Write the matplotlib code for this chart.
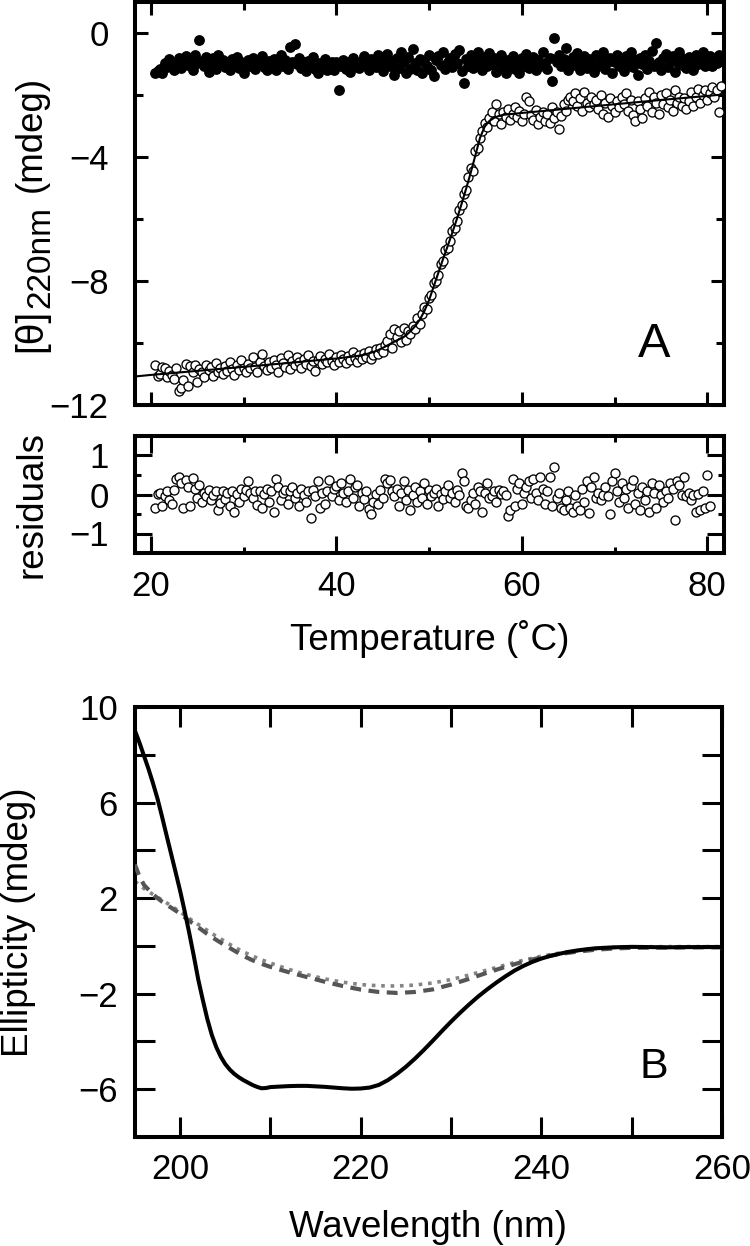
import numpy as np
import matplotlib
matplotlib.use('Agg')
import matplotlib.pyplot as plt
from matplotlib.ticker import MultipleLocator, FixedLocator

plt.rcParams['font.family'] = ['Liberation Sans', 'DejaVu Sans']
plt.rcParams['mathtext.default'] = 'regular'

# ---------------- data: panel A (thermal melt) ----------------
temperature = [
    20.5, 20.75, 21.0, 21.25, 21.5, 21.75, 22.0, 22.25, 22.5, 22.75,
    23.0, 23.25, 23.5, 23.75, 24.0, 24.25, 24.5, 24.75, 25.0, 25.25,
    25.5, 25.75, 26.0, 26.25, 26.5, 26.75, 27.0, 27.25, 27.5, 27.75,
    28.0, 28.25, 28.5, 28.75, 29.0, 29.25, 29.5, 29.75, 30.0, 30.25,
    30.5, 30.75, 31.0, 31.25, 31.5, 31.75, 32.0, 32.25, 32.5, 32.75,
    33.0, 33.25, 33.5, 33.75, 34.0, 34.25, 34.5, 34.75, 35.0, 35.25,
    35.5, 35.75, 36.0, 36.25, 36.5, 36.75, 37.0, 37.25, 37.5, 37.75,
    38.0, 38.25, 38.5, 38.75, 39.0, 39.25, 39.5, 39.75, 40.0, 40.25,
    40.5, 40.75, 41.0, 41.25, 41.5, 41.75, 42.0, 42.25, 42.5, 42.75,
    43.0, 43.25, 43.5, 43.75, 44.0, 44.25, 44.5, 44.75, 45.0, 45.25,
    45.5, 45.75, 46.0, 46.25, 46.5, 46.75, 47.0, 47.25, 47.5, 47.75,
    48.0, 48.25, 48.5, 48.75, 49.0, 49.25, 49.5, 49.75, 50.0, 50.25,
    50.5, 50.75, 51.0, 51.25, 51.5, 51.75, 52.0, 52.25, 52.5, 52.75,
    53.0, 53.25, 53.5, 53.75, 54.0, 54.25, 54.5, 54.75, 55.0, 55.25,
    55.5, 55.75, 56.0, 56.25, 56.5, 56.75, 57.0, 57.25, 57.5, 57.75,
    58.0, 58.25, 58.5, 58.75, 59.0, 59.25, 59.5, 59.75, 60.0, 60.25,
    60.5, 60.75, 61.0, 61.25, 61.5, 61.75, 62.0, 62.25, 62.5, 62.75,
    63.0, 63.25, 63.5, 63.75, 64.0, 64.25, 64.5, 64.75, 65.0, 65.25,
    65.5, 65.75, 66.0, 66.25, 66.5, 66.75, 67.0, 67.25, 67.5, 67.75,
    68.0, 68.25, 68.5, 68.75, 69.0, 69.25, 69.5, 69.75, 70.0, 70.25,
    70.5, 70.75, 71.0, 71.25, 71.5, 71.75, 72.0, 72.25, 72.5, 72.75,
    73.0, 73.25, 73.5, 73.75, 74.0, 74.25, 74.5, 74.75, 75.0, 75.25,
    75.5, 75.75, 76.0, 76.25, 76.5, 76.75, 77.0, 77.25, 77.5, 77.75,
    78.0, 78.25, 78.5, 78.75, 79.0, 79.25, 79.5, 79.75, 80.0, 80.25,
    80.5, 80.75, 81.0, 81.25, 81.5,
]

theta_filled = [
    -1.30, -1.22, -1.15, -1.28, -0.98, -1.10, -0.85, -1.05, -1.20, -0.92,
    -0.80, -1.12, -0.95, -0.75, -1.02, -0.88, -1.18, -0.70, -0.96, -0.22,
    -0.90, -1.08, -0.78, -1.25, -0.95, -0.82, -1.15, -0.72, -1.00, -0.88,
    -1.10, -0.95, -1.20, -0.85, -1.02, -0.78, -1.12, -0.92, -1.28, -0.98,
    -0.88, -1.05, -0.80, -1.15, -0.92, -1.00, -0.75, -1.10, -1.18, -0.90,
    -1.02, -0.85, -1.20, -0.95, -0.70, -1.08, -0.88, -1.15, -0.45, -0.92,
    -0.35, -1.00, -0.82, -1.12, -0.95, -1.22, -0.90, -1.05, -0.78, -1.15,
    -1.30, -0.98, -1.10, -0.85, -1.20, -1.02, -0.92, -1.18, -0.95, -1.85,
    -1.05, -0.88, -1.15, -0.95, -1.25, -0.80, -1.08, -0.98, -1.12, -0.90,
    -0.75, -1.02, -1.18, -0.85, -0.95, -1.10, -0.72, -1.00, -1.22, -0.88,
    -0.68, -1.05, -0.90, -1.35, -0.82, -1.12, -0.60, -0.95, -1.28, -0.78,
    -1.15, -0.50, -0.98, -1.20, -0.85, -1.30, -0.92, -1.05, -0.70, -1.18,
    -1.38, -0.88, -0.75, -1.02, -0.62, -1.15, -0.95, -0.80, -1.10, -0.68,
    -0.98, -0.55, -1.22, -1.62, -0.85, -1.05, -0.72, -1.12, -0.90, -0.60,
    -0.95, -1.18, -0.78, -1.08, -0.65, -1.00, -0.82, -1.25, -0.92, -0.70,
    -1.10, -1.28, -0.88, -1.02, -0.75, -1.15, -0.92, -1.30, -0.80, -1.05,
    -0.68, -1.12, -0.95, -0.78, -1.20, -0.88, -1.05, -0.62, -0.98, -1.15,
    -0.82, -1.55, -0.15, -0.92, -0.72, -1.08, -0.85, -0.48, -1.18, -0.95,
    -0.78, -1.02, -0.65, -1.20, -0.90, -0.75, -1.12, -0.85, -0.98, -1.25,
    -0.72, -1.05, -0.88, -0.60, -1.15, -0.95, -0.80, -1.30, -0.92, -0.70,
    -1.08, -0.85, -1.22, -0.75, -0.98, -0.62, -1.10, -0.88, -1.35, -0.80,
    -1.00, -0.70, -1.15, -0.90, -0.58, -1.05, -0.32, -0.95, -1.20, -0.82,
    -0.68, -1.10, -0.88, -0.75, -1.25, -0.95, -0.62, -1.02, -0.85, -1.12,
    -0.78, -0.92, -1.18, -0.70, -1.00, -0.85, -0.60, -1.08, -0.92, -0.75,
    -1.05, -0.82, -0.98, -0.72, -0.90,
]

theta_open = [
    -10.72, -11.05, -11.00, -10.78, -10.82, -11.10, -10.90, -11.02, -11.15, -10.80,
    -11.55, -11.45, -11.20, -10.68, -11.38, -10.75, -10.95, -10.70, -11.25, -10.85,
    -10.92, -11.10, -10.70, -10.88, -10.78, -11.05, -10.65, -10.95, -10.82, -11.00,
    -10.75, -10.90, -10.60, -10.85, -11.02, -10.72, -10.88, -10.55, -10.80, -10.95,
    -10.68, -10.82, -10.45, -10.78, -10.92, -10.60, -10.35, -10.75, -10.88, -10.62,
    -10.80, -10.55, -10.70, -10.92, -10.48, -10.65, -10.78, -10.40, -10.85, -10.58,
    -10.72, -10.45, -10.62, -10.80, -10.52, -10.68, -10.38, -10.75, -10.58, -10.90,
    -10.55, -10.42, -10.68, -10.50, -10.62, -10.35, -10.58, -10.72, -10.45, -10.60,
    -10.38, -10.52, -10.65, -10.42, -10.55, -10.30, -10.48, -10.62, -10.40, -10.53,
    -10.32, -10.45, -10.25, -10.50, -10.38, -10.20, -10.35, -10.15, -10.30, -10.05,
    -9.95, -9.70, -10.15, -9.55, -9.80, -9.60, -9.98, -9.52, -9.90, -9.62,
    -9.70, -9.45, -9.55, -9.20, -9.40, -9.05, -8.85, -8.90, -8.55, -8.45,
    -8.05, -8.00, -7.80, -7.45, -7.35, -7.00, -6.92, -6.70, -6.40, -6.30,
    -6.05, -5.70, -5.55, -5.20, -5.05, -4.65, -4.35, -4.45, -3.80, -3.70,
    -3.40, -3.15, -2.90, -3.02, -2.75, -2.55, -2.85, -2.30, -2.60, -2.95,
    -2.55, -2.70, -2.45, -2.80, -2.62, -2.38, -2.72, -2.50, -2.85, -2.60,
    -2.05, -2.20, -2.65, -2.80, -2.48, -2.95, -2.70, -2.55, -2.85, -2.62,
    -2.90, -2.40, -2.75, -2.55, -3.10, -2.68, -2.30, -2.50, -2.15, -2.05,
    -2.20, -1.95, -2.35, -2.10, -2.50, -1.90, -2.25, -2.40, -2.05, -2.30,
    -2.15, -2.45, -2.00, -2.60, -2.25, -2.70, -2.10, -2.35, -2.55, -2.20,
    -2.40, -2.05, -2.30, -1.95, -2.50, -2.15, -2.65, -2.85, -2.20, -2.45,
    -2.75, -2.10, -2.35, -1.90, -2.55, -2.05, -2.25, -2.60, -2.00, -2.30,
    -1.95, -2.40, -2.15, -2.50, -1.85, -2.25, -2.05, -2.35, -2.10, -2.45,
    -2.20, -1.90, -2.35, -2.05, -1.80, -2.25, -2.00, -1.85, -2.15, -1.95,
    -1.75, -2.05, -1.85, -2.55, -1.70,
]

fit_temperature = [18.3, 20, 25, 30, 35, 40, 42, 43, 44, 44.5, 45, 45.5, 46, 46.5,
                   47, 47.5, 48, 48.5, 49, 49.5, 50, 50.5, 51, 51.5, 52, 52.5,
                   53, 53.5, 54, 54.5, 55, 55.5, 56, 56.5, 57, 57.5, 58, 59,
                   60, 65, 70, 75, 80, 81.8]
fit_theta = [-11.08, -11.03, -10.90, -10.77, -10.64, -10.50, -10.43, -10.38,
             -10.29, -10.23, -10.16, -10.08, -10.00, -9.92, -9.85, -9.76,
             -9.62, -9.46, -9.25, -8.97, -8.62, -8.18, -7.74, -7.30, -6.88,
             -6.45, -6.00, -5.52, -5.02, -4.50, -3.94, -3.38, -3.02, -2.84,
             -2.74, -2.68, -2.64, -2.61, -2.58, -2.44, -2.30, -2.16, -2.03,
             -1.98]

residuals = [
    -0.35, 0.02, 0.05, -0.30, -0.05, 0.10, -0.15, -0.25, 0.12, 0.40,
    0.45, 0.30, -0.35, 0.38, 0.20, -0.30, 0.42, 0.15, -0.10, 0.25,
    -0.20, 0.05, -0.05, 0.12, -0.15, 0.00, 0.08, -0.40, -0.22, 0.10,
    -0.12, 0.05, -0.30, 0.08, -0.45, 0.02, -0.18, 0.15, -0.05, 0.12,
    0.35, 0.05, -0.10, 0.10, -0.28, 0.08, -0.35, 0.02, 0.15, -0.20,
    0.10, -0.45, 0.40, 0.20, -0.15, 0.05, 0.12, -0.25, 0.08, 0.18,
    -0.10, 0.05, -0.30, 0.15, 0.00, -0.20, 0.10, -0.60, 0.12, -0.05,
    0.35, -0.35, 0.05, -0.25, 0.10, 0.38, -0.05, 0.15, 0.22, -0.15,
    0.30, 0.05, -0.20, 0.10, 0.40, -0.08, 0.18, 0.25, -0.30, 0.05,
    -0.12, 0.10, -0.38, -0.50, -0.20, 0.02, -0.25, 0.12, -0.10, 0.40,
    0.30, 0.38, 0.10, -0.05, 0.15, -0.30, 0.05, 0.35, -0.15, 0.12,
    -0.40, 0.00, 0.20, -0.20, 0.08, -0.10, 0.30, -0.25, 0.12, -0.05,
    0.05, 0.15, -0.30, 0.02, -0.12, 0.10, 0.25, -0.08, 0.05, -0.20,
    0.12, 0.00, 0.55, 0.35, -0.30, -0.35, -0.15, 0.05, -0.25, 0.20,
    0.10, -0.45, 0.05, 0.30, -0.10, -0.05, 0.08, -0.20, 0.12, 0.02,
    0.10, 0.00, -0.55, -0.40, 0.40, -0.30, 0.15, 0.30, -0.25, 0.05,
    0.20, 0.35, -0.10, 0.40, 0.05, -0.15, 0.45, 0.15, -0.25, 0.10,
    0.45, -0.30, 0.70, -0.10, 0.05, -0.35, -0.40, -0.15, 0.10, -0.35,
    -0.45, 0.00, -0.30, -0.40, 0.15, -0.20, 0.35, -0.48, 0.20, 0.45,
    -0.10, 0.05, -0.15, 0.00, 0.20, -0.05, -0.50, 0.35, 0.55, 0.10,
    -0.20, 0.30, -0.10, 0.15, -0.35, 0.22, 0.38, -0.25, 0.05, -0.40,
    0.20, -0.15, 0.10, -0.45, 0.30, 0.05, -0.35, 0.25, 0.00, -0.20,
    0.10, -0.10, 0.30, 0.15, -0.65, 0.35, 0.25, 0.00, 0.45, -0.05,
    0.05, -0.15, 0.00, -0.45, 0.02, -0.40, 0.10, -0.35, 0.50, -0.30,
]

# ---------------- data: panel B (CD spectra) ----------------
wl_solid = [195.0, 195.5, 196.0, 196.5, 197.0, 197.5, 198.0, 198.5, 199.0,
            199.5, 200.0, 200.5, 201.0, 201.5, 202.0, 202.5, 203.0, 203.5,
            204.0, 204.5, 205.0, 205.5, 206.0, 206.5, 207.0, 207.5, 208.0,
            208.5, 209.0, 209.5, 210.0, 211, 212, 213, 214, 215, 216, 217,
            218, 219, 220, 221, 222, 223, 224, 225, 226, 227, 228, 229, 230,
            231, 232, 233, 234, 235, 236, 237, 238, 239, 240, 241, 242, 243,
            244, 245, 246, 248, 250, 252, 254, 256, 258, 260]
ell_solid = [9.00, 8.50, 7.95, 7.40, 6.80, 6.15, 5.40, 4.62, 3.85, 3.08, 2.30,
             1.45, 0.55, -0.40, -1.40, -2.25, -3.05, -3.72, -4.24, -4.64,
             -4.95, -5.18, -5.36, -5.50, -5.62, -5.72, -5.82, -5.90, -5.96,
             -5.95, -5.91, -5.89, -5.87, -5.86, -5.86, -5.88, -5.90, -5.93,
             -5.96, -5.98, -5.97, -5.93, -5.82, -5.62, -5.36, -5.06, -4.72,
             -4.35, -3.96, -3.56, -3.17, -2.80, -2.45, -2.12, -1.82, -1.54,
             -1.28, -1.04, -0.84, -0.67, -0.53, -0.42, -0.33, -0.25, -0.19,
             -0.14, -0.10, -0.06, -0.04, -0.05, -0.06, -0.05, -0.05, -0.05]

wl_dashed = [195.0, 195.5, 196.0, 196.5, 197.0, 197.5, 198.0, 199.0, 200.0,
             201.0, 202.0, 203.0, 204.0, 205.0, 206.0, 207.0, 208.0, 209.0,
             210.0, 212.0, 214.0, 216.0, 218.0, 220.0, 222.0, 224.0, 226.0,
             228.0, 230.0, 232.0, 234.0, 236.0, 238.0, 240.0, 242.0, 244.0,
             246.0, 248.0, 250.0, 254.0, 258.0, 260.0]
ell_dashed = [3.40, 2.90, 2.55, 2.35, 2.15, 2.00, 1.85, 1.60, 1.35, 1.05, 0.78,
              0.50, 0.25, 0.02, -0.20, -0.42, -0.60, -0.75, -0.88, -1.10,
              -1.30, -1.50, -1.68, -1.83, -1.93, -1.97, -1.93, -1.82, -1.62,
              -1.38, -1.12, -0.88, -0.66, -0.48, -0.34, -0.24, -0.16, -0.11,
              -0.08, -0.07, -0.06, -0.06]

wl_dotted = [195.0, 196.0, 197.0, 198.0, 199.0, 200.0, 201.0, 202.0, 203.0,
             204.0, 205.0, 206.0, 207.0, 208.0, 209.0, 210.0, 212.0, 214.0,
             216.0, 218.0, 220.0, 222.0, 224.0, 226.0, 228.0, 230.0, 232.0,
             234.0, 236.0, 238.0, 240.0, 242.0, 244.0, 246.0, 248.0, 250.0,
             254.0, 258.0, 260.0]
ell_dotted = [2.70, 2.40, 2.15, 1.92, 1.68, 1.42, 1.15, 0.90, 0.65, 0.40, 0.18,
              -0.05, -0.25, -0.42, -0.58, -0.72, -0.98, -1.20, -1.38, -1.52,
              -1.62, -1.67, -1.68, -1.64, -1.55, -1.41, -1.22, -1.01, -0.80,
              -0.60, -0.43, -0.30, -0.20, -0.12, -0.07, -0.04, -0.03, -0.03,
              -0.03]

temp_ticks = [20, 40, 60, 80]
theta_ticks = [0, -4, -8, -12]
resid_ticks = [1, 0, -1]
wl_ticks = [200, 220, 240, 260]
ell_ticks = [10, 6, 2, -2, -6]

# ---------------- figure ----------------
W, H = 750, 1246
fig = plt.figure(figsize=(W / 100, H / 100), dpi=100)


def box(l, t, r, b):
    return [l / W, 1 - b / H, (r - l) / W, (b - t) / H]


def fx(x):
    return x / W


def fy(y):
    return 1 - y / H


TICK_FS = 25
LABEL_FS = 26.5
SPINE_W = 2.9

ax1 = fig.add_axes(box(135, 2, 724, 405))
ax2 = fig.add_axes(box(135, 436, 724, 553))
ax3 = fig.add_axes(box(135, 707, 722, 1137))

for ax in (ax1, ax2, ax3):
    for s in ax.spines.values():
        s.set_linewidth(SPINE_W)
    ax.tick_params(which='both', direction='in', top=True, right=True,
                   width=2.2, labelsize=TICK_FS, colors='black')

# Panel A
ax1.plot(temperature, theta_filled, 'o', ms=7.8, mfc='black', mec='black',
         mew=0, zorder=2)
ax1.plot(temperature, theta_open, 'o', ms=6.5, mfc='white', mec='black',
         mew=0.95, zorder=3)
ax1.plot(fit_temperature, fit_theta, '-', color='black', lw=1.5, zorder=4)
ax1.set_xlim(18.3, 81.8)
ax1.set_ylim(-12, 1)
ax1.xaxis.set_major_locator(FixedLocator(temp_ticks))
ax1.xaxis.set_minor_locator(MultipleLocator(10))
ax1.yaxis.set_major_locator(FixedLocator(theta_ticks))
ax1.yaxis.set_minor_locator(MultipleLocator(2))
ax1.tick_params(axis='x', labelbottom=False)
ax1.tick_params(which='major', length=9.5)
ax1.tick_params(which='minor', length=6)
ax1.tick_params(axis='y', pad=19)

# Residuals
ax2.plot(temperature[:len(residuals)], residuals, 'o', ms=6.5, mfc='white',
         mec='black', mew=0.95)
ax2.set_xlim(18.3, 81.8)
ax2.set_ylim(-1.5, 1.5)
ax2.xaxis.set_major_locator(FixedLocator(temp_ticks))
ax2.xaxis.set_minor_locator(MultipleLocator(10))
ax2.yaxis.set_major_locator(FixedLocator(resid_ticks))
ax2.yaxis.set_minor_locator(MultipleLocator(0.5))
ax2.tick_params(which='major', length=12)
ax2.tick_params(which='minor', length=4.5)
ax2.tick_params(axis='y', pad=19)
ax2.tick_params(axis='x', pad=12)

# Panel B
ax3.plot(wl_dotted, ell_dotted, color='#858585', lw=2.6, dashes=(1.0, 1.6),
         zorder=2)
ax3.plot(wl_dashed, ell_dashed, color='#555555', lw=3.0, dashes=(2.6, 1.8),
         zorder=3)
ax3.plot(wl_solid, ell_solid, color='black', lw=2.9, zorder=4)
ax3.set_xlim(195, 260)
ax3.set_ylim(-8, 10)
ax3.xaxis.set_major_locator(FixedLocator(wl_ticks))
ax3.xaxis.set_minor_locator(FixedLocator([210, 230, 250]))
ax3.yaxis.set_major_locator(FixedLocator(ell_ticks))
ax3.yaxis.set_minor_locator(FixedLocator([8, 4, 0, -4, -8]))
ax3.tick_params(which='both', length=14.4)
ax3.tick_params(axis='y', pad=12.5)
ax3.tick_params(axis='x', pad=11.5)

# Axis labels: composite y label of panel A, chained piece by piece
renderer = fig.canvas.get_renderer()
kw = dict(rotation=90, rotation_mode='anchor', ha='left', va='baseline')
t1 = fig.text(fx(41), fy(352), '[θ]', fontsize=28, **kw)
top1 = t1.get_window_extent(renderer).y1          # display px from bottom
t2 = fig.text(fx(49), (top1 + 1) / H, '220nm', fontsize=24, **kw)
top2 = t2.get_window_extent(renderer).y1
fig.text(fx(41), (top2 + 14) / H, '(mdeg)', fontsize=LABEL_FS, **kw)

fig.text(fx(41), fy(505), 'residuals', fontsize=LABEL_FS, rotation=90,
         rotation_mode='anchor', ha='center', va='baseline')
fig.text(fx(28), fy(922), 'Ellipticity (mdeg)', fontsize=LABEL_FS,
         rotation=90, rotation_mode='anchor', ha='center', va='baseline')
fig.text(fx(430), fy(650), 'Temperature (\u02daC)', fontsize=LABEL_FS,
         ha='center', va='baseline')
fig.text(fx(428), fy(1237), 'Wavelength (nm)', fontsize=LABEL_FS,
         ha='center', va='baseline')

fig.text(fx(654), fy(357), 'A', fontsize=35, ha='center', va='baseline')
fig.text(fx(654), fy(1078), 'B', fontsize=31, ha='center', va='baseline')

fig.savefig('out.png', dpi=100)
